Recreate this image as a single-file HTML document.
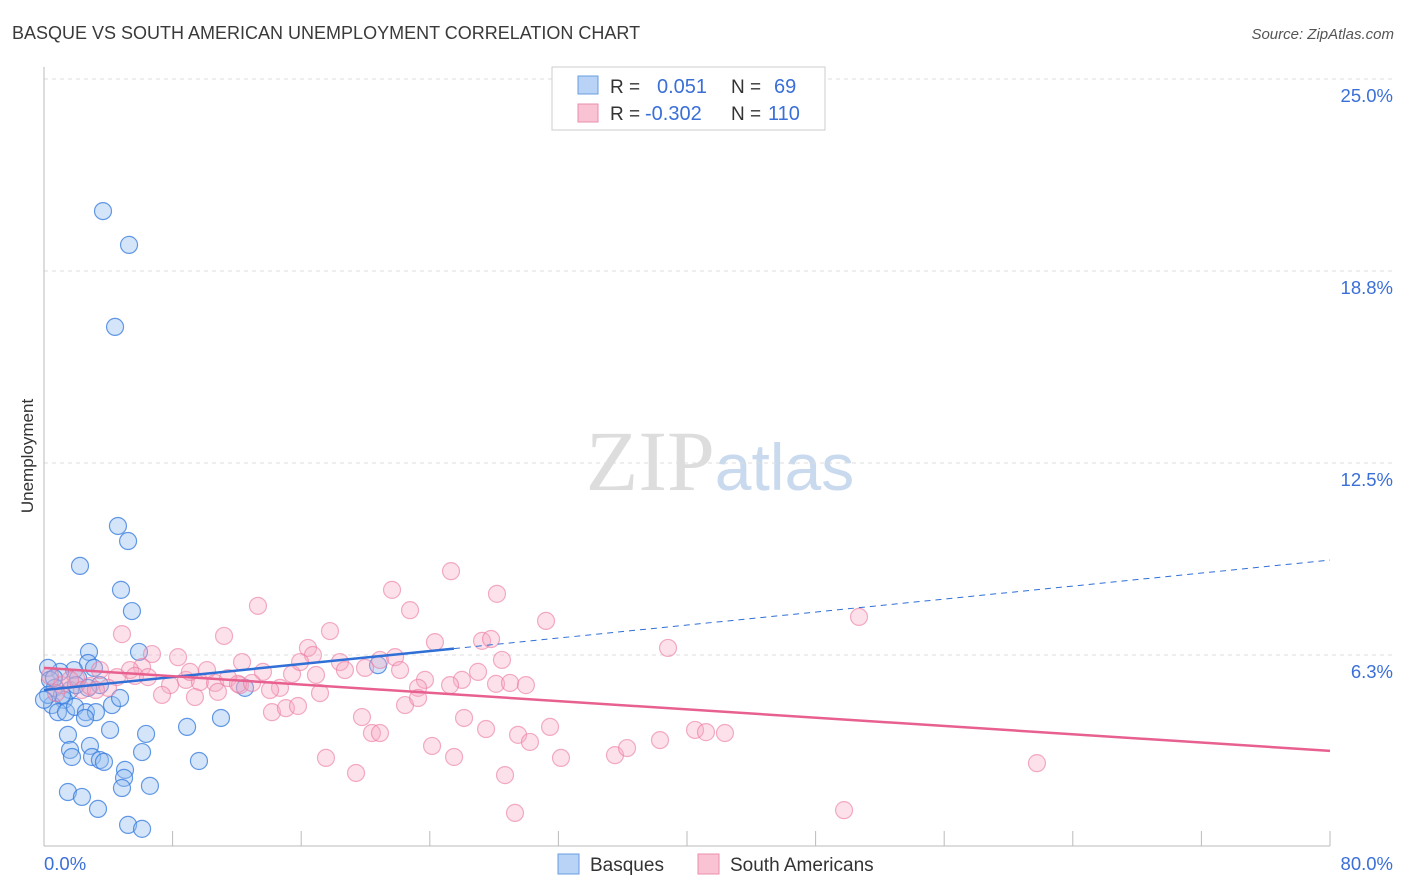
<!DOCTYPE html>
<html><head><meta charset="utf-8"><style>
body{margin:0;background:#fff;font-family:"Liberation Sans",sans-serif;}
svg{display:block}
</style></head><body>
<svg id="c" width="1406" height="892" xmlns="http://www.w3.org/2000/svg">
<text x="12" y="39" font-size="18" fill="#3a3a3a">BASQUE VS SOUTH AMERICAN UNEMPLOYMENT CORRELATION CHART</text>
<text x="1394" y="39" font-size="15" fill="#555" font-style="italic" text-anchor="end">Source: ZipAtlas.com</text>
<text transform="translate(33,456) rotate(-90)" font-size="17" fill="#333" text-anchor="middle">Unemployment</text>
<g>
<text x="720" y="490" font-size="86" fill="#ddd" text-anchor="middle" font-family="Liberation Serif,serif">ZIP<tspan fill="#c9d9ee" font-family="Liberation Sans,sans-serif" font-size="66">atlas</tspan></text>
</g>
<g id="grid"></g><g id="axes"></g><g id="pts"></g><g id="trend"></g>
<g>
<rect x="552" y="67" width="273" height="63" fill="#fff" stroke="#ccc"/>
<rect x="578" y="76" width="20" height="18" fill="#b8d3f5" stroke="#6a9de0"/>
<rect x="578" y="104" width="20" height="18" fill="#f9c3d3" stroke="#eb8fae"/>
<text x="610" y="93" font-size="19" fill="#333">R =</text><text x="657" y="93" font-size="20" fill="#3a6fd8">0.051</text>
<text x="731" y="93" font-size="19" fill="#333">N =</text><text x="774" y="93" font-size="20" fill="#3a6fd8">69</text>
<text x="610" y="120" font-size="19" fill="#333">R =</text><text x="645" y="120" font-size="20" fill="#3a6fd8">-0.302</text>
<text x="731" y="120" font-size="19" fill="#333">N =</text><text x="768" y="120" font-size="20" fill="#3a6fd8">110</text>
</g>
<g>
<rect x="558" y="854" width="21" height="20" fill="#b8d3f5" stroke="#6a9de0"/>
<text x="590" y="871" font-size="19" fill="#333">Basques</text>
<rect x="698" y="854" width="21" height="20" fill="#f9c3d3" stroke="#eb8fae"/>
<text x="730" y="871" font-size="19" fill="#333">South Americans</text>
</g>
</svg>
<script>
const yTicks=[6.3,12.5,18.8,25.0];
const yTickPos=[6.25,12.5,18.75,25];
const xTickLabels=["0.0%","80.0%"];
const blueX=[3.67,5.29,4.42,4.60,5.23,2.24,4.79,5.47,5.91,2.80,2.74,3.11,1.87,1.00,0.25,0.37,0.68,1.62,2.12,3.48,1.24,0.50,0.87,1.37,1.93,2.61,3.23,4.23,4.73,2.55,6.35,4.11,1.49,1.62,1.74,2.86,2.99,3.48,3.73,6.10,5.04,4.98,4.85,6.59,1.49,2.36,3.36,5.23,6.10,8.90,11.01,9.64,12.50,20.78,0.62,1.12,0.25,0.0,1.99,2.74];
const blueY=[20.70,19.60,16.93,10.45,9.96,9.15,8.37,7.68,6.35,6.35,5.99,5.83,5.76,5.70,5.83,5.44,5.18,5.11,5.50,5.27,4.79,4.62,4.39,4.39,4.56,4.39,4.39,4.62,4.85,4.20,3.68,3.81,3.65,3.16,2.93,3.29,2.93,2.83,2.77,3.09,2.51,2.25,1.92,1.99,1.79,1.63,1.24,0.72,0.59,3.91,4.20,2.80,5.18,5.92,5.50,4.95,4.95,4.79,5.27,5.18];
const pinkX=[25.32,21.65,28.18,22.77,31.23,50.70,13.31,4.85,11.20,17.79,24.32,27.25,27.81,38.82,16.42,16.73,8.34,6.72,12.32,10.14,6.10,5.35,4.54,3.48,1.99,1.12,0.37,2.36,3.98,7.84,8.83,9.70,10.64,11.45,12.19,13.62,14.68,15.43,15.93,16.92,18.41,18.72,19.97,20.90,21.84,22.15,23.70,23.27,26.00,27.00,28.12,28.49,28.99,29.98,25.26,17.17,14.06,7.34,9.39,10.82,12.07,14.18,15.05,15.80,19.78,20.40,20.90,22.46,23.27,26.13,27.50,24.14,29.49,30.23,31.48,25.51,17.54,19.41,28.68,29.30,32.16,35.52,36.27,38.32,40.50,41.18,42.36,49.77,61.77,1.62,2.86,0.75,3.23,5.66,6.47,12.94,9.08];
const pinkY=[8.98,8.37,8.24,7.71,7.36,7.49,7.85,6.93,6.87,7.03,6.67,6.71,6.77,6.48,6.48,6.25,6.18,6.28,6.02,5.76,5.86,5.76,5.53,5.76,5.50,5.27,5.57,5.11,5.18,5.27,5.44,5.37,5.34,5.50,5.27,5.70,5.18,5.63,6.02,5.60,6.02,5.76,5.83,6.09,6.18,5.76,5.44,5.18,5.44,5.70,5.31,6.09,5.34,5.27,5.27,5.01,5.11,4.95,4.88,5.05,5.31,4.39,4.52,4.59,4.23,3.71,3.71,4.62,4.85,4.20,3.84,3.29,3.65,3.42,3.91,2.93,2.90,2.41,2.34,1.11,2.90,2.99,3.22,3.48,3.81,3.74,3.71,1.20,2.73,5.44,5.24,5.01,5.11,5.57,5.53,5.34,5.70];
const blueTrend=[5.11,9.34];
const blueSolidEnd=25.5;
const pinkTrend=[5.83,3.13];
const NS='http://www.w3.org/2000/svg';
const X=v=>44+v*(1286/80);
const Y=v=>847-v*(192/6.25);
function mk(tag,attrs,parent){const e=document.createElementNS(NS,tag);for(const k in attrs)e.setAttribute(k,attrs[k]);document.getElementById(parent).appendChild(e);return e;}
yTickPos.forEach((v,i)=>{
 const l=mk('line',{x1:44,x2:1394,y1:Y(v),y2:Y(v),stroke:'#ddd','stroke-dasharray':'4,4'},'grid');
 
 
 const t=mk('text',{x:1393,y:Y(v)+23,'font-size':18.5,fill:'#3a6fd8','text-anchor':'end'},'grid');
 t.textContent=yTicks[i].toFixed(1)+'%';
 
 
});
const ax=mk('line',{x1:44,x2:44,y1:67,y2:846,stroke:'#bbb'},'axes');


const bx=mk('line',{x1:44,x2:1330,y1:846,y2:846,stroke:'#bbb'},'axes');


for(let i=0;i<=10;i++){
 const tk=mk('line',{x1:X(i*8),x2:X(i*8),y1:831,y2:846,stroke:'#bbb'},'axes');
 
 
}
[[0,'start'],[80,'end']].forEach((p,i)=>{
 const t=mk('text',{x:i?1393:44,y:870,'font-size':18.5,fill:'#3a6fd8','text-anchor':p[1]},'axes');
 t.textContent=xTickLabels[i];
 
 
});
blueX.forEach((v,i)=>{
 const c=mk('circle',{cx:X(v),cy:Y(blueY[i]),r:8.5,fill:'rgba(150,190,240,0.4)',stroke:'rgba(50,120,220,0.75)','stroke-width':1.2},'pts');
 
 
});
pinkX.forEach((v,i)=>{
 const c=mk('circle',{cx:X(v),cy:Y(pinkY[i]),r:8.5,fill:'rgba(245,170,195,0.35)',stroke:'rgba(235,120,160,0.6)','stroke-width':1.2},'pts');
 
 
});
const by=x=>blueTrend[0]+(blueTrend[1]-blueTrend[0])*x/80;
const b1=mk('line',{x1:X(0),y1:Y(by(0)),x2:X(blueSolidEnd),y2:Y(by(blueSolidEnd)),stroke:'#2f6fd6','stroke-width':2.5},'trend');


const b2=mk('line',{x1:X(blueSolidEnd),y1:Y(by(blueSolidEnd)),x2:X(80),y2:Y(by(80)),stroke:'#2f6fd6','stroke-width':1,'stroke-dasharray':'6,5'},'trend');


const p1=mk('line',{x1:X(0),y1:Y(pinkTrend[0]),x2:X(80),y2:Y(pinkTrend[1]),stroke:'#e8608f','stroke-width':2.5},'trend');


</script>
</body></html>
